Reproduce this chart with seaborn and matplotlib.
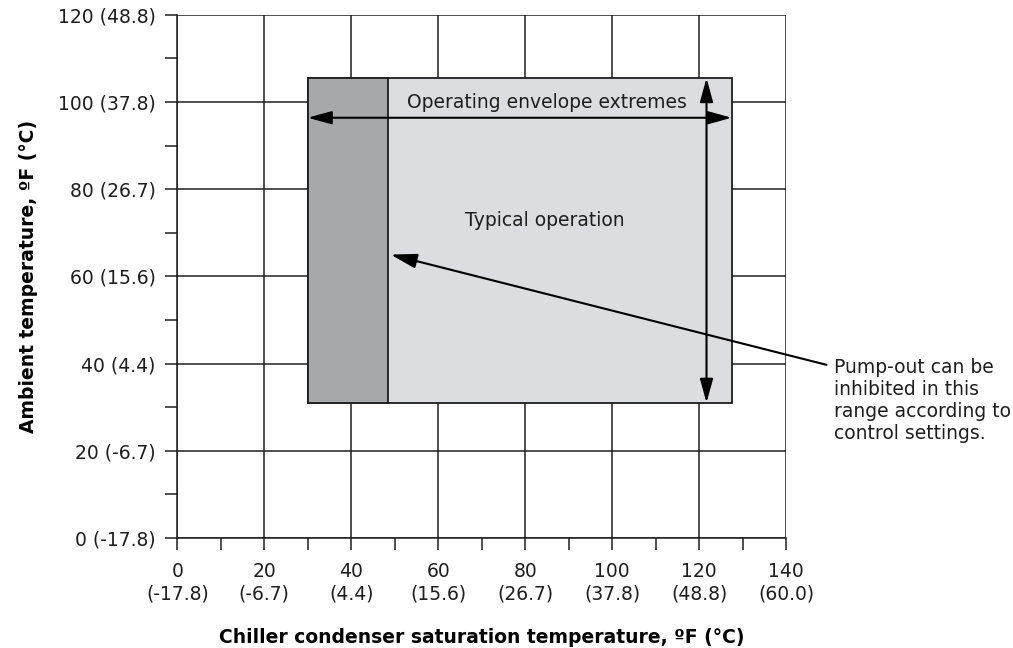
import matplotlib
matplotlib.use("Agg")
import matplotlib.pyplot as plt
from matplotlib.patches import Rectangle
import seaborn as sns

# axis ticks (ºF) and their °C equivalents
x_f = [0, 20, 40, 60, 80, 100, 120, 140]
x_c = ["-17.8", "-6.7", "4.4", "15.6", "26.7", "37.8", "48.8", "60.0"]
y_f = [0, 20, 40, 60, 80, 100, 120]
y_c = ["-17.8", "-6.7", "4.4", "15.6", "26.7", "37.8", "48.8"]

# operating envelope (condenser ºF, ambient ºF)
env_x = [30, 127.5]
env_y = [31, 105.5]
pump_x = [30, 48.5]
extreme_y = 96.4
extreme_x = 121.7

# annotation: text anchor and arrow target
note_xy = [151, 39]
note_tail = [149.3, 39.7]
note_head = [49.1, 65]

sns.set_theme(style="white")
plt.rcParams['font.family'] = ['DejaVu Sans']

fig = plt.figure(figsize=(10.13, 6.48), dpi=100)
ax = fig.add_axes([0.175, 0.170, 0.601, 0.807])

ink = "#1e1e1e"
fs = 13.5

ax.set_xlim(x_f[0], x_f[-1])
ax.set_ylim(y_f[0], y_f[-1])
ax.set_xticks(x_f)
ax.set_xticklabels([f"{f}\n({c})" for f, c in zip(x_f, x_c)], fontsize=fs, color=ink)
ax.set_yticks(y_f)
ax.set_yticklabels([f"{f} ({c})" for f, c in zip(y_f, y_c)], fontsize=fs, color=ink)
ax.set_xticks(range(10, 140, 20), minor=True)
ax.set_yticks(range(10, 120, 20), minor=True)
ax.tick_params(which="both", direction="out", length=8.6, width=1.1, color=ink,
               bottom=True, left=True)
ax.tick_params(axis="y", which="major", pad=7)
ax.tick_params(axis="x", which="major", pad=9)

ax.grid(True, which="major", color=ink, lw=1.1)
ax.set_axisbelow(True)
for s in ax.spines.values():
    s.set_visible(False)
ax.spines["left"].set_visible(True)
ax.spines["bottom"].set_visible(True)
ax.spines["left"].set_color(ink)
ax.spines["bottom"].set_color(ink)
ax.spines["left"].set_linewidth(1.1)
ax.spines["bottom"].set_linewidth(1.1)

# envelope boxes
ax.add_patch(Rectangle((env_x[0], env_y[0]), env_x[1] - env_x[0], env_y[1] - env_y[0],
                       facecolor="#dcdde0", edgecolor=ink, lw=1.3, zorder=3))
ax.add_patch(Rectangle((pump_x[0], env_y[0]), pump_x[1] - pump_x[0], env_y[1] - env_y[0],
                       facecolor="#a6a8aa", edgecolor=ink, lw=1.3, zorder=4))

head = "<|-|>,head_length=1.45,head_width=0.4"
ax.annotate("", xy=(env_x[0], extreme_y), xytext=(env_x[1], extreme_y),
            arrowprops=dict(arrowstyle=head, mutation_scale=10, color="black", lw=1.5,
                            shrinkA=0, shrinkB=0), zorder=5)
ax.annotate("", xy=(extreme_x, env_y[0]), xytext=(extreme_x, env_y[1]),
            arrowprops=dict(arrowstyle=head, mutation_scale=10, color="black", lw=1.5,
                            shrinkA=0, shrinkB=0), zorder=5)
ax.annotate("", xy=note_head, xytext=note_tail,
            arrowprops=dict(arrowstyle="-|>,head_length=1.6,head_width=0.45", mutation_scale=10,
                            color="black", lw=1.5, shrinkA=0, shrinkB=0),
            annotation_clip=False, zorder=6)

ax.text(85, 99.8, "Operating envelope extremes", ha="center", va="center",
        fontsize=fs, color=ink, zorder=6)
ax.text(84.5, 72.9, "Typical operation", ha="center", va="center",
        fontsize=fs, color=ink, zorder=6)
ax.text(note_xy[0], note_xy[1] + 2.3,
        "Pump-out can be\ninhibited in this\nrange according to\ncontrol settings.",
        ha="left", va="top", fontsize=fs, color=ink, linespacing=1.2, clip_on=False)

ax.set_xlabel("Chiller condenser saturation temperature, ºF (°C)", fontsize=fs,
              fontweight="bold", color="black", labelpad=18)
ax.set_ylabel("Ambient temperature, ºF (°C)", fontsize=fs, fontweight="bold",
              color="black", labelpad=14)

fig.savefig("out.png", dpi=100)
